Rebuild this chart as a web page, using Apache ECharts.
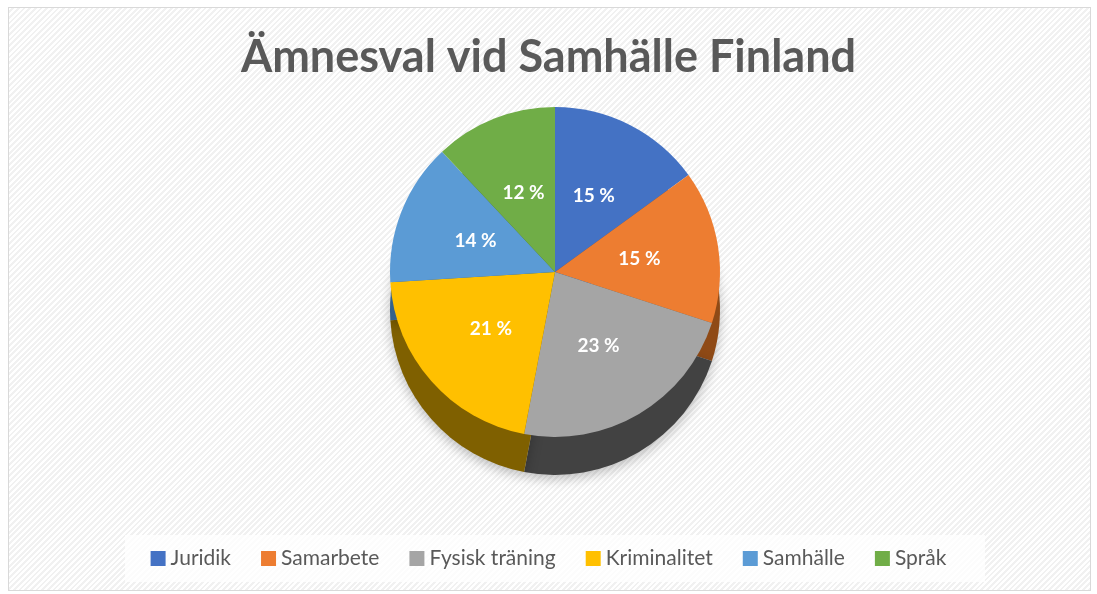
<!DOCTYPE html>
<html><head><meta charset="utf-8">
<script src="https://cdn.jsdelivr.net/npm/echarts@6/dist/echarts.min.js"></script>
<style>
html,body{margin:0;padding:0;background:#fff;}
#frame{position:absolute;left:8px;top:7px;width:1081px;height:582px;border:1px solid #d9d9d9;
 background:repeating-linear-gradient(135deg,#ffffff 0px,#ffffff 2px,#f1f1f1 2px,#f1f1f1 4px);}
#legbox{position:absolute;left:125px;top:535px;width:860px;height:47px;background:rgba(255,255,255,0.8);}
#chart{position:absolute;left:0;top:0;width:1097px;height:594px;}
</style></head>
<body>
<div id="frame"></div>
<div id="legbox"></div>
<div id="chart"></div>
<script>
const title = 'Ämnesval vid Samhälle Finland';
const categories = ['Juridik','Samarbete','Fysisk träning','Kriminalitet','Samhälle','Språk'];
const values = [15,15,23,21,14,12];
const colors = ['#4472C4','#ED7D31','#A5A5A5','#FFC000','#5B9BD5','#70AD47'];
const sideColors = ['#2b4a80','#8f4a16','#424242','#7f6000','#35628c','#43692a'];

const chart = echarts.init(document.getElementById('chart'), null, {renderer:'canvas'});
const font = 'Lato, "Open Sans", sans-serif';
chart.setOption({
  backgroundColor:'transparent',
  animation:false,
  title:{text:title,left:'center',top:30,textStyle:{fontFamily:font,fontSize:45,fontWeight:'bold',color:'#595959'}},
  legend:{data:categories,bottom:20,left:'center',itemWidth:15,itemHeight:15,itemGap:30,icon:'rect',
    textStyle:{fontFamily:font,fontSize:21,color:'#595959'}},
  series:[
    {type:'pie',name:'front',z:3,center:[555,272],radius:[0,165],startAngle:90,clockwise:true,
     data:categories.map((c,i)=>({name:c,value:values[i],itemStyle:{color:colors[i]}})),
     label:{show:true,position:'inside',formatter:'{c} %',color:'#fff',fontFamily:font,fontWeight:'bold',fontSize:19},
     labelLine:{show:false},itemStyle:{borderWidth:0},emphasis:{disabled:true}},
    {type:'pie',name:'side',z:2,silent:true,center:[555,310],radius:[0,165],startAngle:90,clockwise:true,
     data:categories.map((c,i)=>({name:c,value:values[i],itemStyle:{color:sideColors[i]}})),
     label:{show:false},labelLine:{show:false},
     itemStyle:{borderWidth:0,shadowBlur:12,shadowColor:'rgba(0,0,0,0.25)',shadowOffsetY:4},emphasis:{disabled:true}}
  ]
});
</script>
</body></html>
